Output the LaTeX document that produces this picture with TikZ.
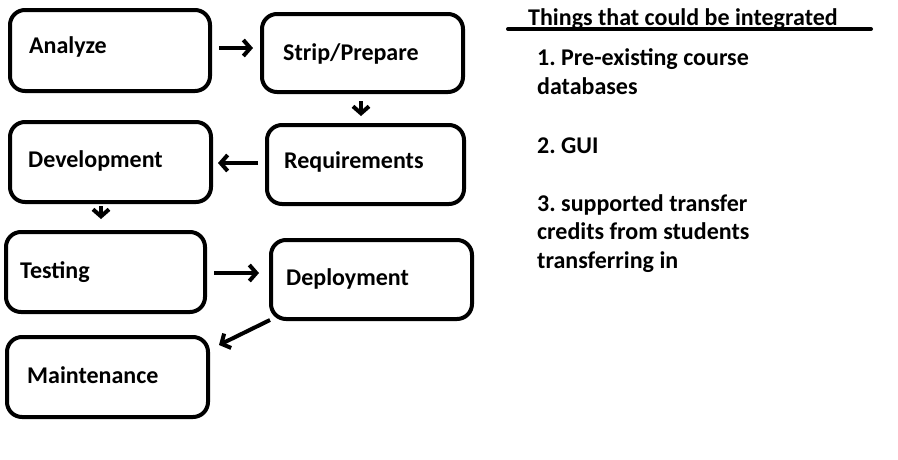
\documentclass[tikz,border=0pt]{standalone}
\usepackage{fontspec}
\setmainfont{Carlito}
\frenchspacing
\usetikzlibrary{arrows.meta,calc}
\tikzset{
  stagebox/.style={draw=black, line width=4pt, rounded corners=15pt, minimum width=#1, inner sep=0pt},
  lbl/.style={anchor=base west, inner sep=0pt, font=\fontsize{24}{29}\selectfont\bfseries},
  arr/.style={line width=4pt, -{Straight Barb[length=7pt,width=16pt,line width=4pt]}}
}
\begin{document}
\begin{tikzpicture}[x=1pt,y=-1pt]
\useasboundingbox[fill=white] (0,0) rectangle (898,459);
% boxes
\node[stagebox=200pt, minimum height=81pt] (an) at (110,50.5) {};
\node[stagebox=201pt, minimum height=78pt] (sp) at (362.5,53) {};
\node[stagebox=201pt, minimum height=80pt] (dv) at (110.5,162) {};
\node[stagebox=197pt, minimum height=79pt] (rq) at (365.5,164.5) {};
\node[stagebox=199pt, minimum height=80pt] (ts) at (105.5,272) {};
\node[stagebox=201pt, minimum height=79pt] (dp) at (371.5,279.5) {};
\node[stagebox=201pt, minimum height=80pt] (mt) at (107.5,377) {};
% labels
\node[lbl] (tan) at (29,53) {Analyze};
\node[lbl] (tsp) at (283,60) {Strip/Prepare};
\node[lbl] (tdv) at (28,167) {Development};
\node[lbl] (trq) at (284,168) {Requirements};
\node[lbl] (tts) at (20,278) {Testing};
\node[lbl] (tdp) at (286,285) {Deployment};
\node[lbl] (tmt) at (27,383) {Maintenance};
% arrows
\draw[arr] ($(an.east)+(7,-2.5)$) -- ($(sp.west)+(-7,-5)$);
\draw[arr] ($(sp.south)+(-1.5,7)$) -- ($(rq.north)+(-4.5,-7)$);
\draw[arr] ($(rq.west)+(-7,-1.5)$) -- ($(dv.east)+(5,1)$);
\draw[arr] ($(dv.south)+(-9.5,2)$) -- ($(ts.north)+(-4.5,-11)$);
\draw[arr] ($(ts.east)+(7,1)$) -- ($(dp.west)+(-10,-6.5)$);
\draw[arr] ($(dp.south west)+(1,-1)$) -- ($(mt.north east)+(9,10)$);
% right side list
\node[lbl] (hd) at (528,25) {Things that could be integrated};
\coordinate (ul1) at (508,29);
\coordinate (ul2) at (871,29);
\draw[line width=4pt, line cap=round] (ul1) -- (ul2);
\node[lbl] (i1a) at (537,65) {1. Pre-existing course};
\node[lbl] (i1b) at (537,94) {databases};
\node[lbl] (i2) at (537,153) {2. GUI};
\node[lbl] (i3a) at (537,211) {3. supported transfer};
\node[lbl] (i3b) at (537,239) {credits from students};
\node[lbl] (i3c) at (537,268) {transferring in};
\end{tikzpicture}
\end{document}
